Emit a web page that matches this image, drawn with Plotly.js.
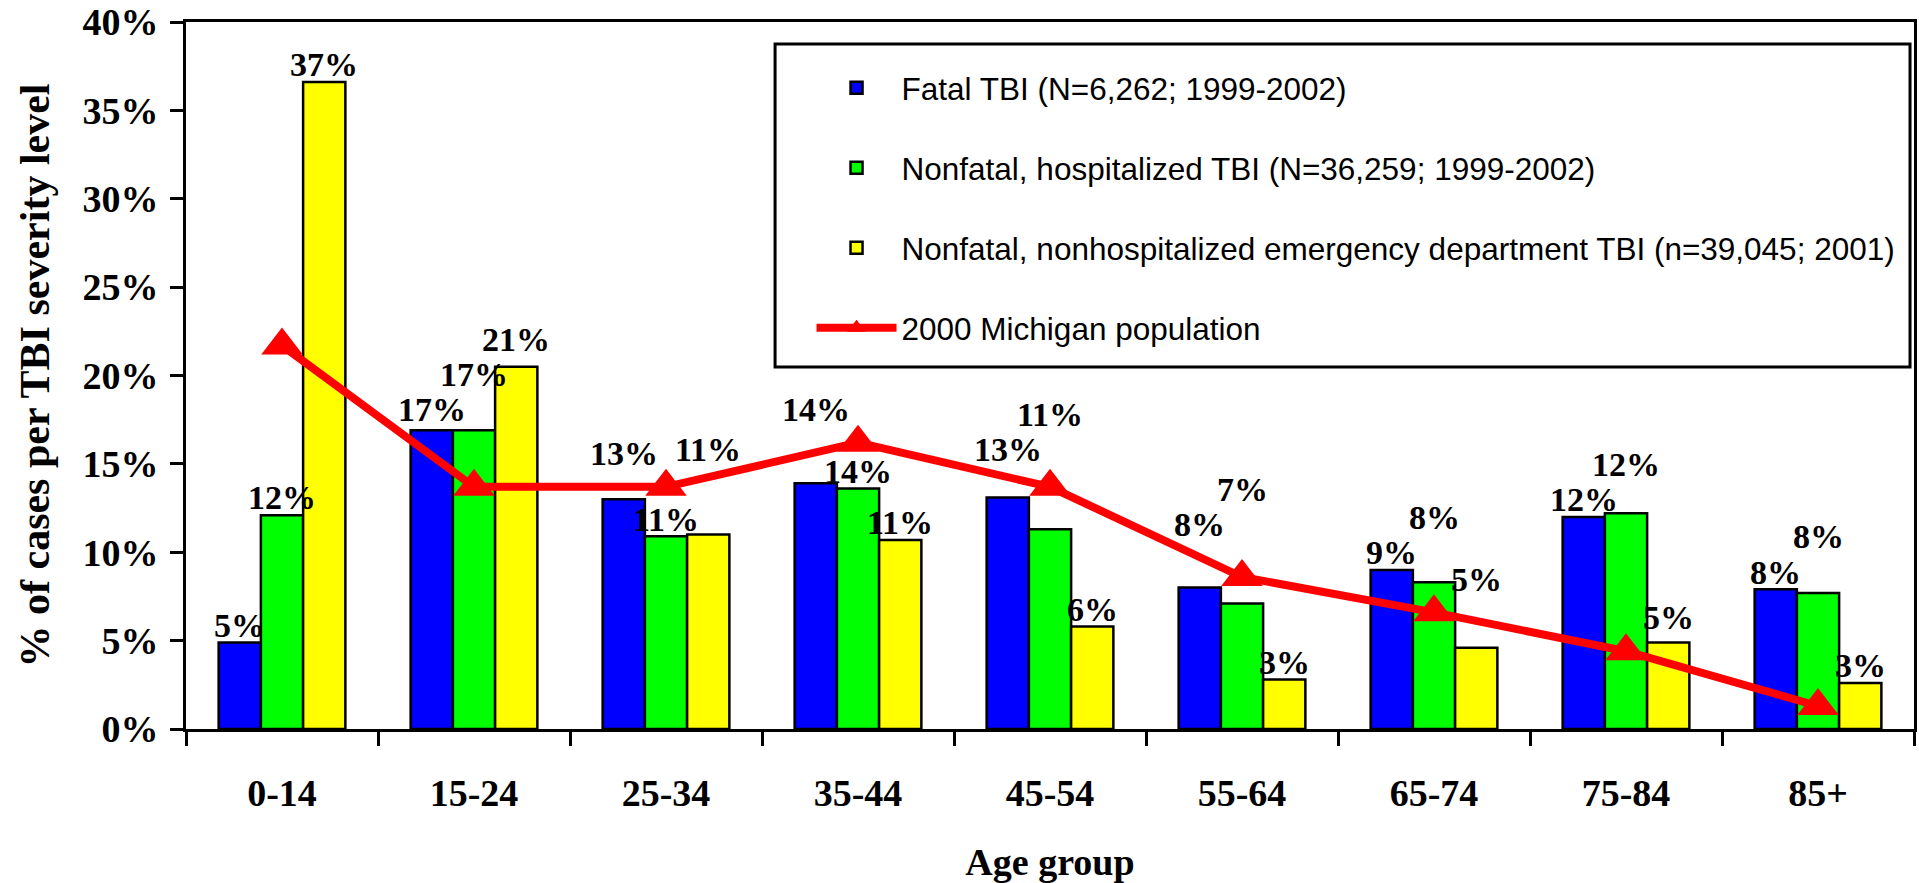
<!DOCTYPE html>
<html><head><meta charset="utf-8">
<script src="https://cdn.plot.ly/plotly-3.0.1.min.js"></script>
<style>html,body{margin:0;padding:0;background:#fff}</style>
</head><body><div id="chart" style="width:1919px;height:883px"></div>
<script>
const ageGroups = ['0-14','15-24','25-34','35-44','45-54','55-64','65-74','75-84','85+'];
const fatalTBI = [4.9, 16.9, 13.0, 13.9, 13.1, 8.0, 9.0, 12.0, 7.9];
const hospTBI = [12.1, 16.9, 10.9, 13.6, 11.3, 7.1, 8.3, 12.2, 7.7];
const edTBI = [36.6, 20.5, 11.0, 10.7, 5.8, 2.8, 4.6, 4.9, 2.6];
const michiganPop = [21.7, 13.7, 13.7, 16.2, 13.7, 8.6, 6.6, 4.4, 1.3];
const seriesNames = [
  'Fatal TBI (N=6,262; 1999-2002)',
  'Nonfatal, hospitalized TBI (N=36,259; 1999-2002)',
  'Nonfatal, nonhospitalized emergency department TBI (n=39,045; 2001)',
  '2000 Michigan population'
];
const seriesColors = ['#0000FF', '#00FF00', '#FFFF00', '#FF0000'];

const serif = 'Liberation Serif, Times New Roman, serif';
const sans = 'Liberation Sans Narrow, Arial Narrow, Liberation Sans, Arial, sans-serif';
const pct = v => Math.round(v) + '%';

// layout constants
const W = 1919, H = 883;
const M = {l: 186, r: 5, t: 22, b: 154};
const YMAX = 40, BARGAP = 0.34;
const MARKER_SIZE = 36, LINE_W = 8, LABEL_FS = 34;

function barTrace(vals, i) {
  return {
    type: 'bar', x: ageGroups, y: vals, name: seriesNames[i],
    legendgroup: 'g' + i,
    marker: {color: seriesColors[i], line: {color: '#000', width: 2.5}},
    hoverinfo: 'x+y'
  };
}
const barSeries = [fatalTBI, hospTBI, edTBI];

const traces = [
  barTrace(fatalTBI, 0),
  barTrace(hospTBI, 1),
  barTrace(edTBI, 2),
  {
    type: 'scatter', mode: 'lines+markers', x: ageGroups, y: michiganPop,
    name: seriesNames[3], legendgroup: 'g3', cliponaxis: false,
    line: {color: seriesColors[3], width: LINE_W},
    marker: {symbol: 'triangle-up', size: MARKER_SIZE, color: seriesColors[3]}
  }
];

// ---- value labels, placed above their bars, lifted to avoid the line and neighbours ----
const plotW = W - M.l - M.r, plotH = H - M.t - M.b;
const cw = plotW / ageGroups.length;          // px per category
const s = plotH / YMAX;                        // px per percent
const barW = cw * (1 - BARGAP) / 3;
const desc = 0.24 * LABEL_FS, capH = 0.68 * LABEL_FS, boxH = 0.95 * LABEL_FS;
const labelWidth = t => t.split('').reduce((a, c) => a + (c === '%' ? 1.0 : 0.5), 0) * LABEL_FS + 4;
function lineY(px) {
  const f = px / cw;
  const i = Math.max(0, Math.min(ageGroups.length - 2, Math.floor(f)));
  const t = Math.max(0, Math.min(1, f - i));
  return (michiganPop[i] + (michiganPop[i + 1] - michiganPop[i]) * t) * s;
}
const annotations = [];
ageGroups.forEach((g, j) => {
  const placed = [];
  barSeries.forEach((vals, k) => {
    const v = vals[j], txt = pct(v);
    const cx = j * cw + (k - 1) * barW;
    const w = labelWidth(txt);
    const x0 = cx - w / 2, x1 = cx + w / 2;
    let vb = v * s + 5;
    for (let iter = 0; iter < 10; iter++) {
      const vt = vb + capH;
      let top = null;
      placed.forEach(p => {
        if (x1 > p.x0 && x0 < p.x1 && vb + boxH > p.b && vb < p.t) top = Math.max(top ?? -1e9, p.t);
      });
      const mr = MARKER_SIZE / 2, mw = mr * 2 / Math.sqrt(3);
      const mcx = j * cw, mcy = michiganPop[j] * s;
      if (x1 > mcx - mw && x0 < mcx + mw && vt > mcy - mr / 2 && vb < mcy + mr)
        top = Math.max(top ?? -1e9, mcy + mr);
      let lo = Infinity, hi = -Infinity;
      for (let xx = x0; xx <= x1; xx += 2) { const ly = lineY(xx); lo = Math.min(lo, ly); hi = Math.max(hi, ly); }
      if (vt > lo - LINE_W / 2 && vb < hi + LINE_W / 2) top = Math.max(top ?? -1e9, hi + LINE_W / 2);
      if (top === null) break;
      vb = top + 3;
    }
    placed.push({x0, x1, b: vb, t: vb + boxH});
    annotations.push({
      xref: 'x', yref: 'y', x: j + (k - 1) * (1 - BARGAP) / 3, y: v,
      text: txt, showarrow: false, xanchor: 'center', yanchor: 'bottom',
      yshift: vb - v * s - desc,
      font: {family: serif, size: LABEL_FS, weight: 'bold', color: '#000'}
    });
  });
});

const tickFont = {family: serif, size: 38, weight: 'bold', color: '#000'};

const layout = {
  width: W, height: H,
  margin: M,
  paper_bgcolor: '#fff', plot_bgcolor: '#fff',
  barmode: 'group', bargap: BARGAP, bargroupgap: 0,
  showlegend: true,
  annotations: annotations,
  shapes: [{
    type: 'rect', xref: 'paper', yref: 'paper', layer: 'below',
    x0: 0.3409, x1: 0.9977, y0: 0.512, y1: 0.9689,
    line: {color: '#000', width: 3}, fillcolor: '#fff'
  }],
  legend: {
    x: 0.362, y: 0.945, xanchor: 'left', yanchor: 'top',
    bgcolor: 'rgba(0,0,0,0)', borderwidth: 0,
    font: {family: sans, size: 31.5, color: '#000'},
    traceorder: 'grouped', tracegroupgap: 36, itemwidth: 80
  },
  xaxis: {
    type: 'category', range: [-0.5, 8.5], tickson: 'boundaries',
    ticks: 'outside', ticklen: 14, tickwidth: 3, tickcolor: '#000',
    showline: true, linewidth: 3, linecolor: '#000', mirror: true,
    showgrid: false, zeroline: false,
    tickfont: tickFont, ticklabelstandoff: 28,
    title: {text: 'Age group', font: {family: serif, size: 38, weight: 'bold', color: '#000'}, standoff: 40}
  },
  yaxis: {
    range: [0, YMAX], dtick: 5, tick0: 0, ticksuffix: '%',
    ticks: 'outside', ticklen: 13, tickwidth: 3, tickcolor: '#000',
    showline: true, linewidth: 3, linecolor: '#000', mirror: true,
    showgrid: false, zeroline: false,
    tickfont: tickFont, ticklabelstandoff: 4,
    title: {text: '% of cases per TBI severity level', font: {family: serif, size: 42, weight: 'bold', color: '#000'}, standoff: 20}
  },
  xaxis2: {
    overlaying: 'x', anchor: 'y', range: [-0.5, 8.5], tick0: -0.5, dtick: 1,
    ticks: 'inside', ticklen: 13, tickwidth: 3, tickcolor: '#000',
    showticklabels: false, showgrid: false, zeroline: false, showline: false
  },
  yaxis2: {
    overlaying: 'y', anchor: 'x', range: [0, YMAX], tick0: 0, dtick: 5,
    ticks: 'inside', ticklen: 12, tickwidth: 3, tickcolor: '#000',
    showticklabels: false, showgrid: false, zeroline: false, showline: false
  }
};

Plotly.newPlot('chart', traces, layout, {displayModeBar: false, staticPlot: true});
</script>
</body></html>
